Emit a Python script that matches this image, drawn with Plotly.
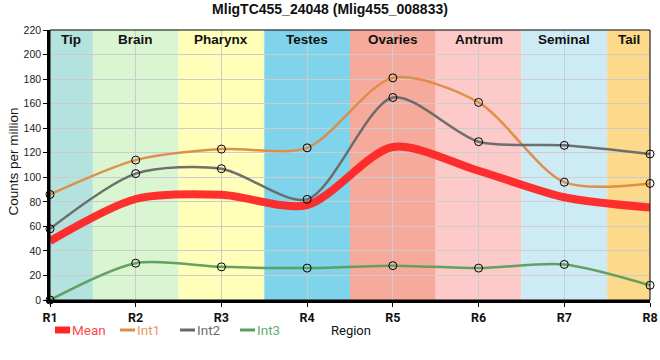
import plotly.graph_objects as go

regions = ["R1", "R2", "R3", "R4", "R5", "R6", "R7", "R8"]
int1 = [86, 114, 123, 124, 181, 161, 96, 95]
int2 = [58, 103, 107, 82, 165, 129, 126, 119]
int3 = [0, 30, 27, 26, 28, 26, 29, 12]
mean = [48, 82.3, 85.7, 77.3, 124.7, 105.3, 83.7, 75.3]

band_names = ["Tip", "Brain", "Pharynx", "Testes", "Ovaries", "Antrum", "Seminal", "Tail"]
band_start = [0, 0.5, 1.5, 2.5, 3.5, 4.5, 5.5, 6.5]
band_end = [0.5, 1.5, 2.5, 3.5, 4.5, 5.5, 6.5, 7]
band_colors = ["#b4e2de", "#d9f5d1", "#ffffb9", "#7fd3eb", "#f5aa9c", "#fdcaca", "#cdebf5", "#fdd98b"]

W, H = 660, 360
ML, MR, MT, MB = 50, 10, 30, 60
PW, PH = W - ML - MR, H - MT - MB


def px(x):
    return (x - ML) / PW


def py(y):
    return (MT + PH - y) / PH


xs = list(range(len(regions)))

fig = go.Figure()

line_specs = [
    ("Mean", mean, "#ff2626", 8, False, "#ff4a4a"),
    ("Int1", int1, "#e08b45", 2.5, True, "#e99a5e"),
    ("Int2", int2, "#686868", 2.5, True, "#6e6e6e"),
    ("Int3", int3, "#5c9e5c", 2.5, True, "#68ad6e"),
]
for name, vals, col, w, mk, tcol in line_specs:
    fig.add_trace(go.Scatter(
        x=xs, y=vals, mode="lines", name=name, showlegend=False,
        line=dict(color=col, width=w, shape="spline", smoothing=0.8),
        opacity=0.95, cliponaxis=False,
    ))
for name, vals, col, w, mk, tcol in line_specs:
    if mk:
        fig.add_trace(go.Scatter(
            x=xs, y=vals, mode="markers", showlegend=False,
            marker=dict(symbol="circle-open", size=8, color="black", line=dict(width=1, color="black")),
            cliponaxis=False, hoverinfo="skip",
        ))

shapes = []
annotations = []
for nm, s, e, c in zip(band_names, band_start, band_end, band_colors):
    shapes.append(dict(type="rect", xref="x", yref="paper", x0=s, x1=e, y0=0, y1=1,
                       fillcolor=c, line=dict(width=0), layer="below"))
    annotations.append(dict(x=(s + e) / 2, y=1, xref="x", yref="paper", yanchor="middle",
                            yshift=-9, text=f"<b>{nm}</b>", showarrow=False,
                            font=dict(size=13.5, color="#111111", family="Liberation Sans, Arial")))

# custom legend (bottom left)
leg_y = 330
sym_x = [55, 120, 180, 240]
for (name, vals, col, w, mk, tcol), sx in zip(line_specs, sym_x):
    if name == "Mean":
        shapes.append(dict(type="rect", xref="paper", yref="paper",
                           x0=px(sx), x1=px(sx + 15), y0=py(leg_y - 3.5), y1=py(leg_y + 3.5),
                           fillcolor=col, line=dict(width=0)))
    else:
        shapes.append(dict(type="line", xref="paper", yref="paper",
                           x0=px(sx), x1=px(sx + 15), y0=py(leg_y), y1=py(leg_y),
                           line=dict(color=col, width=3)))
    annotations.append(dict(x=px(sx + 17), y=py(leg_y), xref="paper", yref="paper",
                            xanchor="left", yanchor="middle", text=name, showarrow=False,
                            borderpad=0, borderwidth=0,
                            font=dict(size=13.5, color=tcol, family="Roboto")))

annotations.append(dict(x=px(351), y=py(331), xref="paper", yref="paper", xanchor="center",
                        yanchor="middle", text="Region", showarrow=False,
                        font=dict(size=13, color="#111111", family="Roboto")))
annotations.append(dict(x=px(12.5), y=py(162), xref="paper", yref="paper", xanchor="center",
                        yanchor="middle", text="Counts per million", textangle=-90, showarrow=False,
                        font=dict(size=13.5, color="#111111", family="Liberation Sans, Arial")))

fig.update_layout(
    width=W, height=H,
    margin=dict(l=ML, r=MR, t=MT, b=MB, autoexpand=False),
    paper_bgcolor="white", plot_bgcolor="white",
    font=dict(family="Liberation Sans, Arial", size=12, color="#222222"),
    title=dict(text="<b>MligTC455_24048 (Mlig455_008833)</b>", x=0.5, xanchor="center",
               y=1 - 9.5 / H, yanchor="middle", font=dict(size=14, color="#111111")),
    shapes=shapes, annotations=annotations,
    showlegend=False,
    xaxis=dict(range=[0, 7], tickvals=xs, ticktext=[f"<b>{r}</b>" for r in regions],
               showgrid=True, gridcolor="#cccccc", gridwidth=1, automargin=False,
               showline=True, linecolor="black", linewidth=2.5, mirror=False,
               ticks="outside", ticklen=4, tickcolor="black",
               zeroline=False, tickfont=dict(size=12.5, color="#111111", family="Roboto")),
    yaxis=dict(range=[0, 220], dtick=20, showgrid=True, gridcolor="#cccccc", gridwidth=1,
               showline=True, linecolor="black", linewidth=2.5, automargin=False,
               ticks="outside", ticklen=4, tickcolor="black",
               zeroline=False, tickfont=dict(size=10.5, color="#222222")),
)
fig.add_shape(type="rect", xref="paper", yref="paper", x0=0, x1=1, y0=0, y1=1,
              line=dict(color="black", width=1), fillcolor="rgba(0,0,0,0)", layer="above")

fig.write_html("out.html", config={"displayModeBar": False},
               post_script="document.body.style.margin='0';document.documentElement.style.overflow='hidden';")
